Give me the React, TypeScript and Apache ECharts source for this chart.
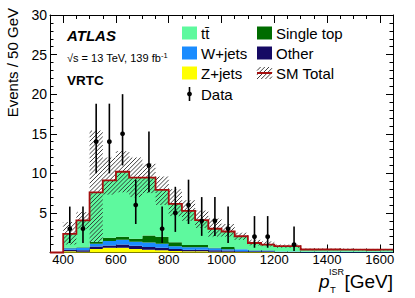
import React, { useEffect, useRef } from 'react';
import * as echarts from 'echarts';

const FONT = "'Liberation Sans', Arial, Helvetica, sans-serif";

// 50 GeV bins, lower edges
const binLow = [400, 450, 500, 550, 600, 650, 700, 750, 800, 850, 900, 950, 1000, 1050, 1100, 1150, 1200, 1250, 1300, 1350, 1400, 1450, 1500, 1550, 1600];
const BIN_W = 50;

// stacked backgrounds (events / 50 GeV)
const zjets = [0.15, 0.1, 0.45, 0.6, 0.6, 0.45, 0.35, 0.3, 0.2, 0.15, 0.15, 0.1, 0.1, 0.05, 0.05, 0.05, 0.02, 0.02, 0.01, 0.01, 0.01, 0.01, 0.01, 0.01, 0.01];
const other = [0.2, 0.2, 0.3, 0.3, 0.4, 0.4, 0.35, 0.3, 0.25, 0.2, 0.2, 0.2, 0.15, 0.1, 0.1, 0.1, 0.05, 0.05, 0.03, 0.03, 0.03, 0.03, 0.03, 0.03, 0.03];
const wjets = [0.2, 0.3, 0.35, 0.55, 0.6, 0.5, 0.55, 0.5, 0.35, 0.3, 0.3, 0.25, 0.15, 0.25, 0.1, 0.1, 0.05, 0.05, 0.04, 0.04, 0.04, 0.04, 0.04, 0.04, 0.04];
const singleTop = [0.05, 0.05, 0.25, 0.4, 0.4, 0.4, 0.9, 0.9, 0.5, 0.3, 0.3, 0.05, 0.3, 0.02, 0.02, 0.02, 0.02, 0.02, 0.01, 0.01, 0.01, 0.01, 0.01, 0.01, 0.01];
const ttbar = [1.75, 3.4, 6.25, 7.25, 8.2, 7.7, 7.3, 5.9, 4.85, 4.3, 3.15, 2.4, 1.95, 1.63, 0.93, 0.73, 0.66, 0.66, 0.29, 0.29, 0.29, 0.28, 0.27, 0.26, 0.27];

// SM total uncertainty band edges
const bandLow = [1.0, 3.0, 1.3, 7.3, 7.6, 7.0, 7.5, 6.0, 4.6, 4.0, 3.1, 2.0, 2.0, 1.6, 0.9, 0.8, 0.6, 0.6, 0.3, 0.3, 0.3, 0.3, 0.28, 0.27, 0.27];
const bandHigh = [3.85, 5.1, 15.4, 12.0, 12.8, 12.0, 11.2, 9.6, 8.0, 6.6, 5.3, 4.3, 3.6, 2.5, 1.6, 1.4, 1.0, 1.0, 0.5, 0.5, 0.5, 0.5, 0.45, 0.45, 0.45];

// data
const dataCounts = [3, 3, 14, 14, 15, 6, 11, 3, 5, 6, 4, 4, 3, 0, 2, 2, 0, 1, 0, 0, 0, 0, 0, 0, 0];
const dataLowEdge = [1.2, 1.2, 10.0, 10.0, 11.0, 3.6, 7.6, 1.2, 2.6, 3.6, 2.1, 2.1, 1.2, 0, 0.6, 0.6, 0, 0.2, 0, 0, 0, 0, 0, 0, 0];
const dataHighEdge = [5.8, 5.8, 18.8, 18.8, 20.0, 9.2, 15.3, 5.8, 8.3, 9.2, 7.0, 7.0, 5.8, 0, 4.6, 4.6, 0, 3.3, 0, 0, 0, 0, 0, 0, 0];

const xMajorTicks = [400, 600, 800, 1000, 1200, 1400, 1600];
const xMinorTicks = [350, 400, 450, 500, 550, 600, 650, 700, 750, 800, 850, 900, 950, 1000, 1050, 1100, 1150, 1200, 1250, 1300, 1350, 1400, 1450, 1500, 1550, 1600, 1650];

const C_TT = '#5ef99e';
const C_ST = '#006c00';
const C_W = '#1a8cff';
const C_OTHER = '#160a64';
const C_Z = '#ffff00';
const C_RED = '#a50f0f';
const HATCH = '#2a2a2a';

function hatchLines(x0: number, y0: number, x1: number, y1: number, step: number) {
  const out: any[] = [];
  const cmin = x0 + y0;
  const cmax = x1 + y1;
  for (let c = Math.ceil(cmin / step) * step; c <= cmax; c += step) {
    const xa = Math.max(x0, c - y1);
    const xb = Math.min(x1, c - y0);
    if (xb - xa > 0.3) {
      out.push({
        type: 'line',
        shape: { x1: xa, y1: c - xa, x2: xb, y2: c - xb },
        style: { stroke: HATCH, lineWidth: 0.9 },
      });
    }
  }
  return out;
}

function buildOption() {
  const comps = [
    { name: 'Z+jets', values: zjets, color: C_Z },
    { name: 'Other', values: other, color: C_OTHER },
    { name: 'W+jets', values: wjets, color: C_W },
    { name: 'Single top', values: singleTop, color: C_ST },
    { name: 'ttbar', values: ttbar, color: C_TT },
  ];
  const cum: number[][] = [];
  let prev = binLow.map(() => 0);
  comps.forEach((c) => {
    const top = prev.map((p, i) => p + c.values[i]);
    cum.push(top);
    prev = top;
  });
  const total = prev;

  const stackSeries = comps.map((c, k) => ({
    type: 'custom',
    name: c.name,
    silent: true,
    data: [[0]],
    z: 2,
    renderItem: (params: any, api: any) => {
      const top = cum[k];
      const bottom = k === 0 ? binLow.map(() => 0) : cum[k - 1];
      const pts: number[][] = [];
      binLow.forEach((lo, i) => {
        pts.push(api.coord([lo, top[i]]));
        pts.push(api.coord([lo + BIN_W, top[i]]));
      });
      for (let i = binLow.length - 1; i >= 0; i--) {
        pts.push(api.coord([binLow[i] + BIN_W, bottom[i]]));
        pts.push(api.coord([binLow[i], bottom[i]]));
      }
      return { type: 'polygon', shape: { points: pts }, style: { fill: c.color, stroke: null } };
    },
  }));

  const hatchSeries = {
    type: 'custom',
    silent: true,
    data: [[0]],
    z: 3,
    renderItem: (params: any, api: any) => {
      const children: any[] = [];
      binLow.forEach((lo, i) => {
        const a = api.coord([lo, bandHigh[i]]);
        const b = api.coord([lo + BIN_W, bandLow[i]]);
        children.push(...hatchLines(a[0], a[1], b[0], b[1], 4.2));
      });
      return { type: 'group', children };
    },
  };

  const totalSeries = {
    type: 'custom',
    silent: true,
    data: [[0]],
    z: 4,
    renderItem: (params: any, api: any) => {
      const pts: number[][] = [api.coord([350, 0]), api.coord([binLow[0], 0])];
      binLow.forEach((lo, i) => {
        pts.push(api.coord([lo, total[i]]));
        pts.push(api.coord([lo + BIN_W, total[i]]));
      });
      return { type: 'polyline', shape: { points: pts }, style: { stroke: C_RED, lineWidth: 1.8, fill: null } };
    },
  };

  const dataRows: number[][] = [];
  binLow.forEach((lo, i) => {
    if (dataCounts[i] > 0) dataRows.push([lo + BIN_W / 2, dataCounts[i], dataLowEdge[i], dataHighEdge[i]]);
  });

  const dataSeries = {
    type: 'custom',
    silent: true,
    data: dataRows,
    z: 5,
    renderItem: (params: any, api: any) => {
      const x = api.value(0);
      const c = api.coord([x, api.value(1)]);
      const lo = api.coord([x, api.value(2)]);
      const hi = api.coord([x, api.value(3)]);
      return {
        type: 'group',
        children: [
          { type: 'line', shape: { x1: c[0], y1: lo[1], x2: c[0], y2: hi[1] }, style: { stroke: '#000', lineWidth: 1.6 } },
          { type: 'circle', shape: { cx: c[0], cy: c[1], r: 2.4 }, style: { fill: '#000' } },
        ],
      };
    },
  };

  const plainNum = (v: number) => String(v);

  const xBase = { type: 'value', min: 350, max: 1650, splitLine: { show: false } };
  const xAxes = [
    {
      ...xBase,
      position: 'bottom',
      axisLine: { show: true, lineStyle: { color: '#000', width: 1 } },
      axisTick: { show: true, inside: true, length: 8, customValues: xMajorTicks, lineStyle: { color: '#000' } },
      axisLabel: { show: true, customValues: xMajorTicks, formatter: plainNum, fontSize: 13, color: '#000', fontFamily: FONT, margin: 0 },
    },
    {
      ...xBase,
      position: 'bottom',
      axisLine: { show: false },
      axisTick: { show: true, inside: true, length: 4, customValues: xMinorTicks, lineStyle: { color: '#000' } },
      axisLabel: { show: false },
    },
    {
      ...xBase,
      position: 'top',
      axisLine: { show: true, lineStyle: { color: '#000', width: 1 } },
      axisTick: { show: true, inside: true, length: 8, customValues: xMajorTicks, lineStyle: { color: '#000' } },
      axisLabel: { show: false },
    },
    {
      ...xBase,
      position: 'top',
      axisLine: { show: false },
      axisTick: { show: true, inside: true, length: 4, customValues: xMinorTicks, lineStyle: { color: '#000' } },
      axisLabel: { show: false },
    },
  ];
  const yBase = {
    type: 'value',
    min: 0,
    max: 30,
    interval: 5,
    splitLine: { show: false },
    axisLine: { show: true, lineStyle: { color: '#000', width: 1 } },
    axisTick: { show: true, inside: true, length: 7, lineStyle: { color: '#000' } },
    minorTick: { show: true, splitNumber: 5, length: 3.5, lineStyle: { color: '#000' } },
  };
  const yAxes = [
    {
      ...yBase,
      position: 'left',
      axisLabel: { show: true, formatter: plainNum, fontSize: 14, color: '#000', fontFamily: FONT, margin: 3, showMinLabel: false },
    },
    { ...yBase, position: 'right', axisLabel: { show: false } },
  ];

  const txt = (text: string, x: number, y: number, extra: any = {}, rotation = 0) => ({
    type: 'text',
    x,
    y,
    rotation,
    silent: true,
    style: { text, fill: '#000', fontFamily: FONT, fontSize: 15, align: 'left', verticalAlign: 'middle', ...extra },
  });
  const box = (x: number, yc: number, color: string) => ({
    type: 'rect',
    silent: true,
    shape: { x, y: yc - 6.5, width: 15, height: 13 },
    style: { fill: color, stroke: null },
  });

  const rows = [33, 53, 73, 94];
  const graphic: any[] = [
    txt('Events / 50 GeV', 12, 8, { align: 'right', fontSize: 15 }, Math.PI / 2),
    txt('ATLAS', 67, 35, { fontWeight: 'bold', fontStyle: 'italic', fontSize: 15 }),
    {
      type: 'text',
      x: 67,
      y: 58,
      silent: true,
      style: {
        text: '{a|√s = 13 TeV, 139 fb}{b|-1}',
        verticalAlign: 'middle',
        rich: {
          a: { fontFamily: FONT, fontSize: 11, fill: '#000', lineHeight: 14 },
          b: { fontFamily: FONT, fontSize: 7.5, fill: '#000', verticalAlign: 'top', lineHeight: 14 },
        },
      },
    },
    txt('VRTC', 67, 80, { fontWeight: 'bold', fontSize: 13.5 }),
    // legend column 1
    box(182, rows[0], C_TT),
    txt('tt\u0304', 201, rows[0]),
    box(182, rows[1], C_W),
    txt('W+jets', 201, rows[1]),
    box(182, rows[2], C_Z),
    txt('Z+jets', 201, rows[2]),
    { type: 'line', silent: true, shape: { x1: 189.5, y1: rows[3] - 7, x2: 189.5, y2: rows[3] + 7 }, style: { stroke: '#000', lineWidth: 1.6 } },
    { type: 'circle', silent: true, shape: { cx: 189.5, cy: rows[3], r: 2.4 }, style: { fill: '#000' } },
    txt('Data', 201, rows[3]),
    // legend column 2
    box(257, rows[0], C_ST),
    txt('Single top', 276, rows[0]),
    box(257, rows[1], C_OTHER),
    txt('Other', 276, rows[1]),
    ...hatchLines(257, rows[2] - 6, 272, rows[2] + 6, 4.2).map((l) => ({ ...l, silent: true })),
    { type: 'line', silent: true, shape: { x1: 257, y1: rows[2], x2: 272, y2: rows[2] }, style: { stroke: C_RED, lineWidth: 2 } },
    txt('SM Total', 276, rows[2]),
    // x axis title
    txt('p', 319, 281, { fontStyle: 'italic', fontSize: 19 }),
    txt('ISR', 329, 271.5, { fontSize: 9 }),
    txt('T', 330, 289, { fontSize: 9.5 }),
    txt('[GeV]', 393, 281, { fontSize: 19, align: 'right' }),
  ];

  return {
    animation: false,
    backgroundColor: '#fff',
    grid: { left: 50, right: 22, top: 15, bottom: 45.5, containLabel: false, outerBoundsMode: 'none' },
    xAxis: xAxes,
    yAxis: yAxes,
    series: [...stackSeries, hatchSeries, totalSeries, dataSeries],
    graphic: { elements: graphic },
  };
}

export default function App() {
  const ref = useRef<HTMLDivElement>(null);
  useEffect(() => {
    if (!ref.current) return;
    const chart = echarts.init(ref.current, null, { renderer: 'svg' });
    chart.setOption(buildOption() as any);
    return () => chart.dispose();
  }, []);
  return (
    <div
      ref={ref}
      style={{ position: 'absolute', left: 0, top: 0, width: 415, height: 298, background: '#fff' }}
    />
  );
}
